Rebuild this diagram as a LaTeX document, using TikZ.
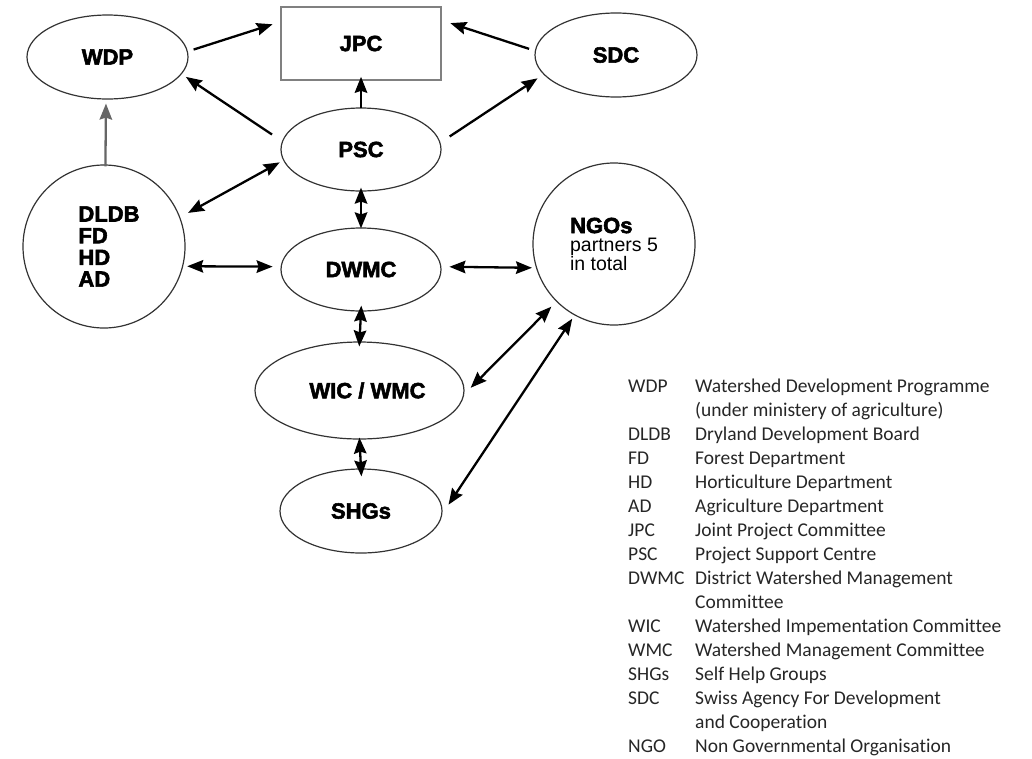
\documentclass[tikz,border=0pt]{standalone}
\usepackage{fontspec}
\setmainfont{Liberation Sans}
\newfontfamily\dfont{Liberation Sans}[BoldFeatures={FakeBold=2.5}]
\newfontfamily\legfont{Carlito}[Ligatures=NoCommon]
\usetikzlibrary{shapes.geometric,arrows.meta}
\tikzset{
  ell/.style={ellipse, draw=black!80, line width=1.2pt, inner sep=0pt,
    font=\dfont\fontsize{22}{21.7}\selectfont\bfseries, align=center},
  boxnode/.style={rectangle, draw=black!50, line width=1.6pt, inner sep=0pt,
    font=\dfont\fontsize{22}{21.7}\selectfont\bfseries},
  tip/.tip={Stealth[length=16pt,width=12.5pt,inset=2pt]},
  arr/.style={-tip, line width=2.3pt},
  darr/.style={tip-tip, line width=2.3pt},
  leg/.style={font=\legfont\fontsize{19.5}{24}\selectfont, text=black!85, inner sep=0pt, anchor=base west},
}
\begin{document}
\begin{tikzpicture}[x=1pt,y=-1pt]
\useasboundingbox (0,0) rectangle (1032,758);
% nodes
\node[ell, minimum width=161pt, minimum height=84pt] (wdp) at (107.5,57) {WDP};
\node[boxnode, minimum width=160pt, minimum height=73pt] (jpc) at (361,43.5) {JPC};
\node[ell, minimum width=162pt, minimum height=84pt] (sdc) at (616,55) {SDC};
\node[ell, minimum width=160pt, minimum height=83pt] (psc) at (361,149.5) {PSC};
\node[ell, minimum width=162pt, minimum height=163pt, align=left] (dldb) at (104,246.5)
  {\hspace*{10pt}DLDB\\\hspace*{10pt}FD\\\hspace*{10pt}HD\\\hspace*{10pt}AD};
\node[ell, minimum width=160pt, minimum height=83pt] (dwmc) at (361,269.5) {DWMC};
\node[ell, minimum width=162pt, minimum height=162pt, align=left,
  font=\dfont\fontsize{19.5}{18.5}\selectfont] (ngo) at (614,244)
  {{\fontsize{22}{18.5}\selectfont\bfseries NGOs}\\partners 5\\in total};
\node[ell, minimum width=209pt, minimum height=97pt] (wic) at (359.5,390.5) {\hspace*{16pt}WIC / WMC};
\node[ell, minimum width=162pt, minimum height=84pt] (shg) at (361,511) {SHGs};
% connectors
\draw[arr, shorten <=6pt, shorten >=8pt] (wdp.4) -- (jpc.165);
\draw[arr, shorten <=6pt, shorten >=9pt] (sdc.177) -- (jpc.16);
\draw[arr, shorten <=12pt, shorten >=5pt] (psc.174) -- (wdp.-13);
\draw[arr, shorten <=-1pt, shorten >=-4pt] (psc.north) -- (jpc.south);
\draw[arr, shorten <=11pt, shorten >=7pt] (psc.5) -- (sdc.195);
\draw[arr, black!60, shorten <=-2pt, shorten >=4pt] (dldb.89) -- (wdp.268);
\draw[darr, shorten <=9pt, shorten >=4pt] (dldb.21) -- (psc.188);
\draw[darr, shorten <=-4pt, shorten >=-1pt] (psc.south) -- (dwmc.north);
\draw[darr, shorten <=4pt, shorten >=8pt] (dldb.-14) -- (dwmc.178);
\draw[darr, shorten <=8pt, shorten >=4pt] (dwmc.2) -- (ngo.197);
\draw[darr, shorten <=-6pt, shorten >=-5pt] (dwmc.south) -- (wic.north);
\draw[darr, shorten <=-2pt, shorten >=-8pt] (wic.south) -- (shg.north);
\draw[darr, shorten <=7pt, shorten >=9pt] (ngo.225) -- (wic.-2);
\draw[darr, shorten <=4pt, shorten >=11pt] (ngo.241) -- (shg.-2);
% legend
\foreach \ab/\de [count=\i from 0] in {
  WDP/{Watershed Development Programme},
  {}/{(under ministery of agriculture)},
  DLDB/{Dryland Development Board},
  FD/{Forest Department},
  HD/{Horticulture Department},
  AD/{Agriculture Department},
  JPC/{Joint Project Committee},
  PSC/{Project Support Centre},
  DWMC/{District Watershed Management},
  {}/{Committee},
  WIC/{Watershed Impementation Committee},
  WMC/{Watershed Management Committee},
  SHGs/{Self Help Groups},
  SDC/{Swiss Agency For Development},
  {}/{and Cooperation},
  NGO/{Non Governmental Organisation}}
{
  \node[leg] (ab\i) at (628,392+24*\i) {\ab};
  \node[leg] (de\i) at (695,392+24*\i) {\de};
}
\end{tikzpicture}
\end{document}
